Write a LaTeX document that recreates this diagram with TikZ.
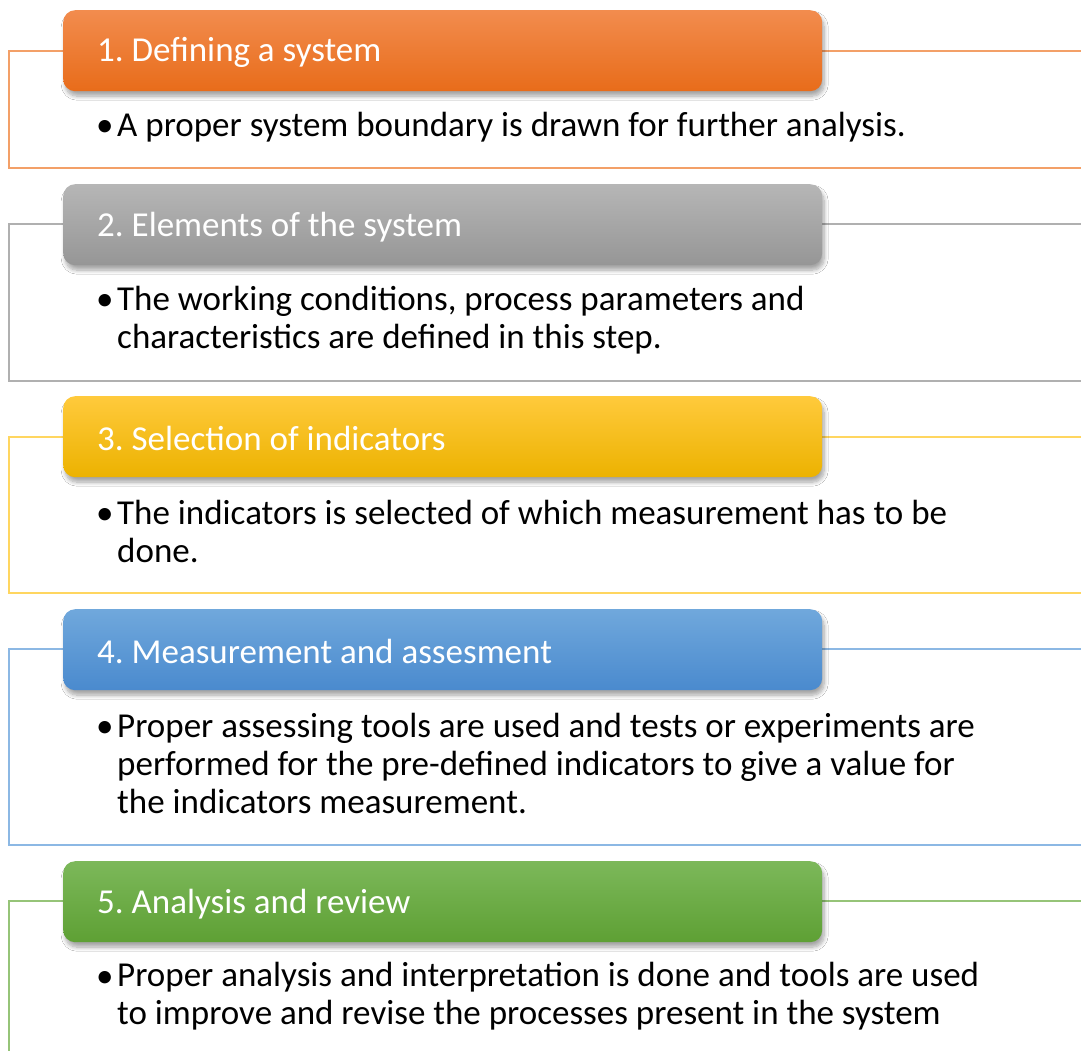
\documentclass[tikz,border=0pt]{standalone}
\usepackage{fontspec}
\setmainfont{Carlito}
\frenchspacing
\usetikzlibrary{shadows.blur}
\definecolor{oTop}{RGB}{242,140,78}
\definecolor{oBot}{RGB}{232,108,26}
\definecolor{oLine}{RGB}{243,160,104}
\definecolor{gTop}{RGB}{182,182,182}
\definecolor{gBot}{RGB}{150,150,150}
\definecolor{gLine}{RGB}{176,176,176}
\definecolor{yTop}{RGB}{255,202,60}
\definecolor{yBot}{RGB}{236,178,0}
\definecolor{yLine}{RGB}{255,214,96}
\definecolor{bTop}{RGB}{112,168,220}
\definecolor{bBot}{RGB}{74,138,206}
\definecolor{bLine}{RGB}{140,184,228}
\definecolor{grTop}{RGB}{124,184,90}
\definecolor{grBot}{RGB}{94,160,52}
\definecolor{grLine}{RGB}{150,196,120}
\tikzset{
  frameline/.style={line width=1.2pt},
  header/.style={rounded corners=12pt, anchor=north west, minimum height=81pt,
    minimum width=759pt, inner sep=0pt,
    blur shadow={shadow xshift=2pt, shadow yshift=-5pt, shadow blur steps=8,
      shadow blur radius=4pt, shadow opacity=35}},
  htext/.style={anchor=west, inner sep=0pt, text=white, font=\fontsize{35}{38}\selectfont},
  bul/.style={anchor=base west, inner sep=0pt, font=\fontsize{35}{38}\selectfont},
  body/.style={anchor=base west, inner sep=0pt, align=left, font=\fontsize{35}{38}\selectfont},
}
\begin{document}
\begin{tikzpicture}[x=1pt,y=-1pt]
\useasboundingbox (0,0) rectangle (1081,1051);
\clip (0,0) rectangle (1081,1051);
\fill[white] (0,0) rectangle (1081,1051);
% section 1
\draw[frameline,oLine] (9,51) rectangle (1100,168);
\node[header, top color=oTop, bottom color=oBot] (h1) at (63,10) {};
\node[htext] (ht1) at ([xshift=34pt,yshift=-2pt]h1.west) {1. Defining a system};
\node[bul] (b1) at (96,137) {•};
\node[body] (t1) at (117,137) {A proper system boundary is drawn for further analysis.};
% section 2
\draw[frameline,gLine] (9,224) rectangle (1100,381);
\node[header, top color=gTop, bottom color=gBot] (h2) at (63,184) {};
\node[htext] (ht2) at ([xshift=34pt,yshift=-2pt]h2.west) {2. Elements of the system};
\node[bul] (b2) at (96,310) {•};
\node[body] (t2) at (117,348) {The working conditions, process parameters and\\characteristics are defined in this step.};
% section 3
\draw[frameline,yLine] (9,437) rectangle (1100,593);
\node[header, top color=yTop, bottom color=yBot] (h3) at (63,396) {};
\node[htext] (ht3) at ([xshift=34pt,yshift=-2pt]h3.west) {3. Selection of indicators};
\node[bul] (b3) at (96,524) {•};
\node[body] (t3) at (117,562) {The indicators is selected of which measurement has to be\\done.};
% section 4
\draw[frameline,bLine] (9,649) rectangle (1100,845);
\node[header, top color=bTop, bottom color=bBot] (h4) at (63,609) {};
\node[htext] (ht4) at ([xshift=34pt,yshift=-2pt]h4.west) {4. Measurement and assesment};
\node[bul] (b4) at (96,737) {•};
\node[body] (t4) at (117,813) {Proper assessing tools are used and tests or experiments are\\performed for the pre-defined indicators to give a value for\\the indicators measurement.};
% section 5
\draw[frameline,grLine] (9,901) rectangle (1100,1100);
\node[header, top color=grTop, bottom color=grBot] (h5) at (63,861) {};
\node[htext] (ht5) at ([xshift=34pt,yshift=-2pt]h5.west) {5. Analysis and review};
\node[bul] (b5) at (96,987) {•};
\node[body] (t5) at (117,1024) {Proper analysis and interpretation is done and tools are used\\to improve and revise the processes present in the system};
\end{tikzpicture}
\end{document}
